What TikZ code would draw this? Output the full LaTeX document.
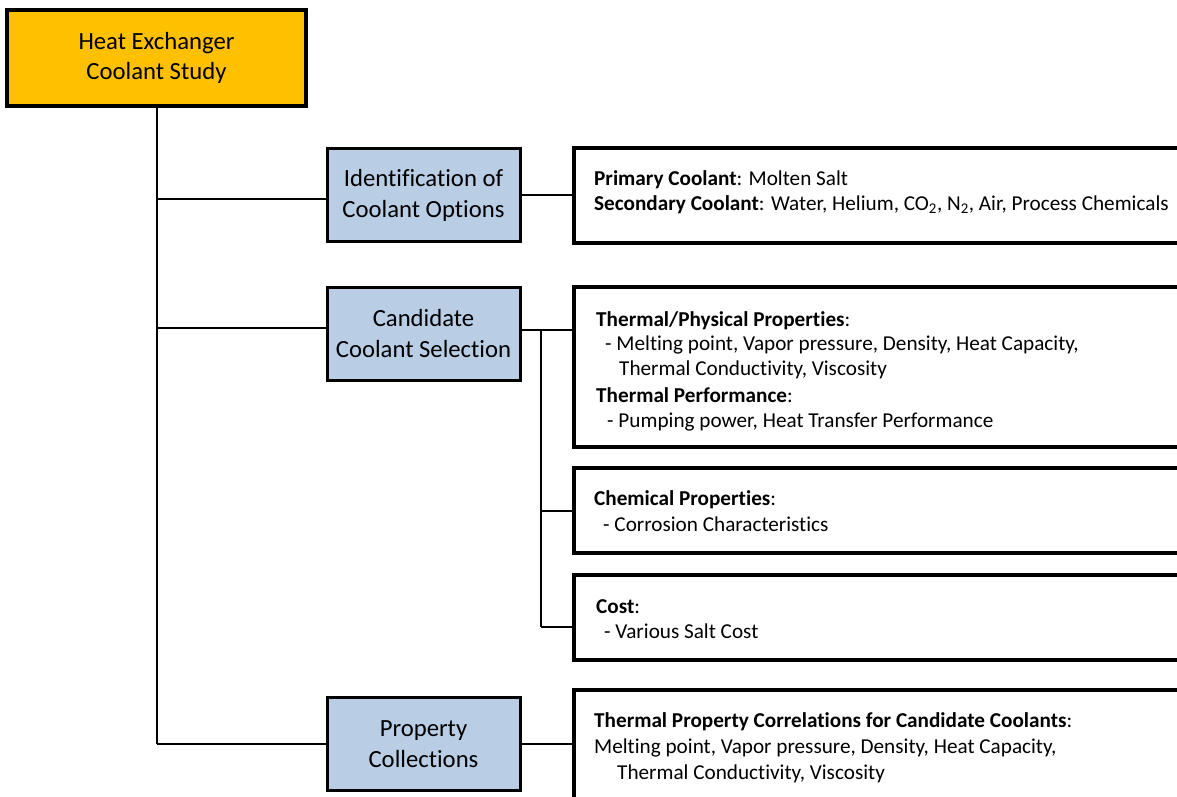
\documentclass[tikz,border=0pt]{standalone}
\usepackage{fontspec}
\setmainfont{Carlito}[Ligatures={NoCommon}]
\definecolor{hdr}{HTML}{FFC000}
\definecolor{blu}{HTML}{B9CDE5}
\begin{document}
\begin{tikzpicture}[x=1pt,y=-1pt,
  topbox/.style={draw,line width=4pt,fill=hdr,minimum width=299pt,minimum height=96pt,align=center,font=\fontsize{24.7}{30.5}\selectfont,inner sep=0pt},
  midbox/.style={draw,line width=3pt,fill=blu,minimum width=193pt,minimum height=93pt,align=center,font=\fontsize{24.7}{31}\selectfont,inner sep=0pt},
  detbox/.style={draw,line width=3.5pt,fill=white,anchor=west,minimum width=700pt,inner sep=0pt},
  txt/.style={anchor=base west,inner sep=0pt,font=\fontsize{21.2}{25}\selectfont},
  conn/.style={line width=2pt}]
\useasboundingbox (0,0) rectangle (1177,797);
\clip (0,0) rectangle (1177,797);
\fill[white] (0,0) rectangle (1177,797);

\node[topbox] (top) at (156.5,58) {Heat Exchanger\\Coolant Study};
\node[midbox] (ident) at (423.5,195) {Identification of\\Coolant Options};
\node[midbox] (cand) at (423.5,334) {Candidate\\Coolant Selection};
\node[midbox] (prop) at (423.5,744) {Property\\Collections};

\node[detbox,minimum height=95pt] (d1) at (572,195.5) {};
\node[detbox,minimum height=160pt] (d2) at (572,367) {};
\node[detbox,minimum height=85pt] (d3) at (572,510.5) {};
\node[detbox,minimum height=85pt] (d4) at (572,617.5) {};
\node[detbox,minimum height=130pt] (d5) at (572,755) {};

\node[txt] (t1a) at (594,185) {\textbf{Primary Coolant}: Molten Salt};
\node[txt] (t1b) at (594,210) {\textbf{Secondary Coolant}: Water, Helium, CO\textsubscript{2}, N\textsubscript{2}, Air, Process Chemicals};

\node[txt] (t2a) at (596,326) {\textbf{Thermal/Physical Properties}:};
\node[txt] (t2b) at (605,350) {- Melting point, Vapor pressure, Density, Heat Capacity,};
\node[txt] (t2c) at (619,375) {Thermal Conductivity, Viscosity};
\node[txt] (t2d) at (596,402) {\textbf{Thermal Performance}:};
\node[txt] (t2e) at (607,427) {- Pumping power, Heat Transfer Performance};

\node[txt] (t3a) at (594,505) {\textbf{Chemical Properties}:};
\node[txt] (t3b) at (603,531) {- Corrosion Characteristics};

\node[txt] (t4a) at (596,613) {\textbf{Cost}:};
\node[txt] (t4b) at (604,638) {- Various Salt Cost};

\node[txt] (t5a) at (594,727) {\textbf{Thermal Property Correlations for Candidate Coolants}:};
\node[txt] (t5b) at (594,753) {Melting point, Vapor pressure, Density, Heat Capacity,};
\node[txt] (t5c) at (617,779) {Thermal Conductivity, Viscosity};

\coordinate (a1) at (157,199);
\coordinate (a2) at (157,328);
\coordinate (b1) at (541,330);
\coordinate (b2) at (541,627);

\draw[conn] (top.south) -- (top.south |- prop.west);
\draw[conn] (a1) -- (ident.west |- a1);
\draw[conn] (a2) -- (cand.west |- a2);
\draw[conn] (top.south |- prop.west) -- (prop.west);
\draw[conn] (ident.east) -- (ident.east -| d1.west);
\draw[conn] (cand.east |- b1) -- (d2.west |- b1);
\draw[conn] (b1) -- (b2);
\draw[conn] (b1 |- d3.west) -- (d3.west);
\draw[conn] (b2) -- (d4.west |- b2);
\draw[conn] (prop.east) -- (prop.east -| d5.west);
\end{tikzpicture}
\end{document}
